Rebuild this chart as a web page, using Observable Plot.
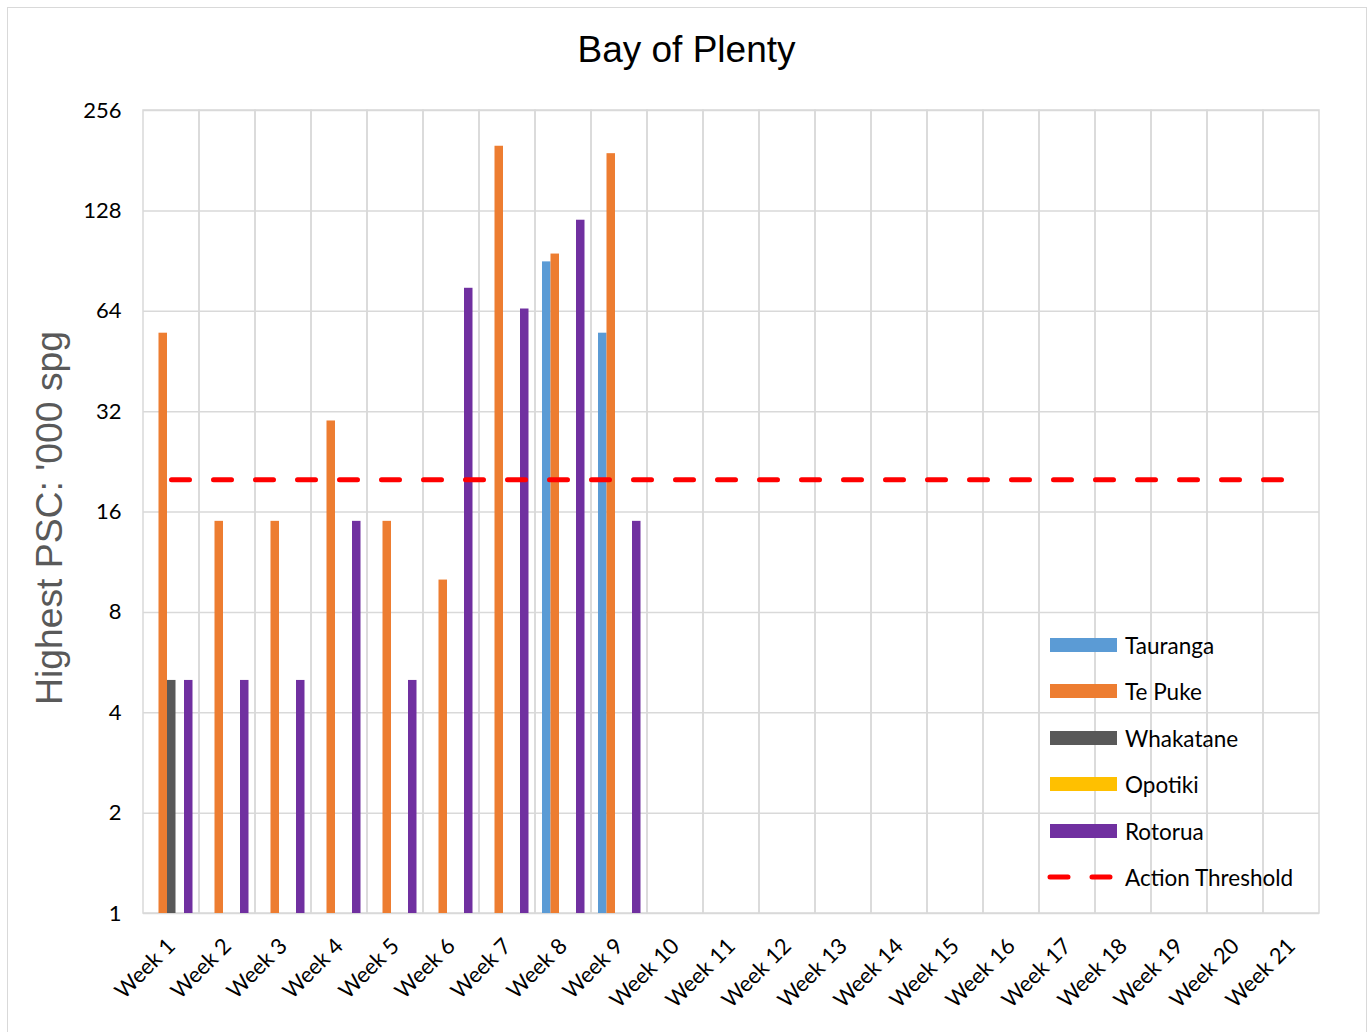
<!DOCTYPE html>
<html>
<head>
<meta charset="utf-8">
<script src="https://cdn.jsdelivr.net/npm/d3@7"></script>
<script src="https://cdn.jsdelivr.net/npm/@observablehq/plot@0.6"></script>
<style>
  html, body { margin: 0; padding: 0; background: #fff; }
  #wrap { position: relative; width: 1371px; height: 1032px; overflow: hidden; }
  #border { position: absolute; left: 7px; top: 7px; width: 1360px; height: 1030px; border: 1.5px solid #d9d9d9; box-sizing: border-box; }
  #title { position: absolute; left: 0; width: 1373px; top: 31px; text-align: center; font-family: "Liberation Sans", Arial, sans-serif; font-size: 37px; line-height: 1; color: #000; }
  #ylabel { position: absolute; left: 50px; top: 518px; transform: translate(-50%, -50%) rotate(-90deg); white-space: nowrap; font-family: "Liberation Sans", Arial, sans-serif; font-size: 37.3px; line-height: 1; color: #595959; }
  #legend { position: absolute; left: 1047px; top: 0; font-family: Lato, sans-serif; font-size: 22.5px; color: #000; }
  .li { position: absolute; left: 0; height: 30px; display: flex; align-items: center; white-space: nowrap; }
  .sw { width: 67px; height: 14px; margin-left: 3px; margin-right: 8px; }
  #chart { position: absolute; left: 0; top: 0; }
</style>
</head>
<body>
<div id="wrap">
  <div id="border"></div>
  <div id="chart"></div>
  <div id="title"></div>
  <div id="ylabel"></div>
  <div id="legend"></div>
</div>
<script>
const title = "Bay of Plenty";
const yLabel = "Highest PSC: '000 spg";
const weeks = Array.from({length: 21}, (_, i) => "Week " + (i + 1));
const seriesNames = ["Tauranga", "Te Puke", "Whakatane", "Opotiki", "Rotorua"];
const seriesColors = ["#5B9BD5", "#ED7D31", "#595959", "#FFC000", "#7030A0"];
const tauranga  = [null, null, null, null, null, null, null, 90, 55, null, null, null, null, null, null, null, null, null, null, null, null];
const tePuke    = [55, 15, 15, 30, 15, 10, 200, 95, 190, null, null, null, null, null, null, null, null, null, null, null, null];
const whakatane = [5, null, null, null, null, null, null, null, null, null, null, null, null, null, null, null, null, null, null, null, null];
const opotiki   = [null, null, null, null, null, null, null, null, null, null, null, null, null, null, null, null, null, null, null, null, null];
const rotorua   = [5, 5, 5, 15, 5, 75, 65, 120, 15, null, null, null, null, null, null, null, null, null, null, null, null];
const actionThreshold = 20;
const thresholdLabel = "Action Threshold";
const yTicks = [1, 2, 4, 8, 16, 32, 64, 128, 256];

const seriesValues = [tauranga, tePuke, whakatane, opotiki, rotorua];

const W = 1371, H = 1032;
const mL = 143, mR = 52, mT = 110, mB = 119;
const band = (W - mL - mR) / weeks.length;
const barW = 8.5, groupPad = 7;

const barMarks = seriesValues.map((vals, i) => {
  const data = weeks.map((w, j) => ({week: w, value: vals[j]})).filter(d => d.value != null);
  return Plot.barY(data, {
    x: "week", y1: () => 1, y2: "value",
    fill: seriesColors[i],
    insetLeft: groupPad + barW * i,
    insetRight: band - groupPad - barW * (i + 1)
  });
});

const chart = Plot.plot({
  width: W, height: H,
  marginLeft: mL, marginRight: mR, marginTop: mT, marginBottom: mB,
  style: {fontFamily: "Lato, sans-serif", fontSize: "22px", color: "#000", background: "transparent"},
  x: {type: "band", domain: weeks, padding: 0, label: null},
  y: {type: "log", base: 2, domain: [1, 256], label: null},
  marks: [
    Plot.ruleY(yTicks, {stroke: "#d9d9d9", strokeWidth: 1.5}),
    Plot.cell(weeks, {x: d => d, fill: "none", stroke: "#d9d9d9", strokeWidth: 1.5}),
    ...barMarks,
    Plot.line(weeks, {x: d => d, y: () => actionThreshold, stroke: "#FF0000", strokeWidth: 5, strokeDasharray: "18,24", strokeLinecap: "round"}),
    Plot.axisY({ticks: yTicks, tickFormat: d => String(d), tickSize: 0, tickPadding: 22, label: null}),
    Plot.axisX({tickRotate: -45, tickSize: 0, tickPadding: 8, dy: 21, dx: 0, label: null})
  ]
});
document.getElementById("chart").appendChild(chart);
document.getElementById("title").textContent = title;
document.getElementById("ylabel").textContent = yLabel;

const legend = document.getElementById("legend");
const rowsY = [645, 691, 738, 784, 831, 877];
seriesNames.forEach((name, i) => {
  const row = document.createElement("div");
  row.className = "li";
  row.style.top = (rowsY[i] - 15) + "px";
  const sw = document.createElement("div");
  sw.className = "sw";
  sw.style.background = seriesColors[i];
  row.appendChild(sw);
  const t = document.createElement("span");
  t.textContent = name;
  row.appendChild(t);
  legend.appendChild(row);
});
{
  const row = document.createElement("div");
  row.className = "li";
  row.style.top = (rowsY[5] - 15) + "px";
  const ns = "http://www.w3.org/2000/svg";
  const svg = document.createElementNS(ns, "svg");
  svg.setAttribute("width", 70); svg.setAttribute("height", 14);
  svg.style.marginRight = "8px";
  const ln = document.createElementNS(ns, "line");
  ln.setAttribute("x1", 3); ln.setAttribute("x2", 68);
  ln.setAttribute("y1", 7); ln.setAttribute("y2", 7);
  ln.setAttribute("stroke", "#FF0000"); ln.setAttribute("stroke-width", 5);
  ln.setAttribute("stroke-linecap", "round");
  ln.setAttribute("stroke-dasharray", "18,24");
  svg.appendChild(ln);
  row.appendChild(svg);
  const t = document.createElement("span");
  t.textContent = thresholdLabel;
  row.appendChild(t);
  legend.appendChild(row);
}
</script>
</body>
</html>
